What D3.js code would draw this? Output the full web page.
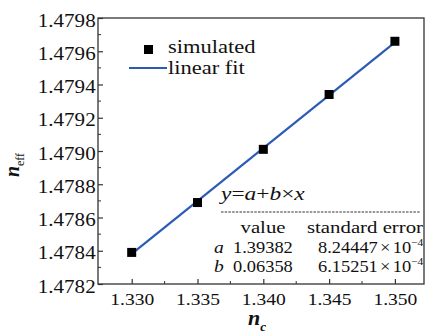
<!DOCTYPE html>
<html>
<head>
<meta charset="utf-8">
<script src="https://cdn.jsdelivr.net/npm/d3@7"></script>
<style>
  html, body { margin: 0; padding: 0; background: #fff; }
  svg { display: block; }
  text { font-family: serif; fill: #111; }
</style>
</head>
<body>
<svg id="chart" width="426" height="333"></svg>
<script>
// ---- data ----
const nc = [1.330, 1.335, 1.340, 1.345, 1.350];
const neff = [1.47839, 1.47869, 1.47901, 1.47934, 1.47966];
const fitA = 1.39382;
const fitB = 0.06358;
const xTicks = [1.330, 1.335, 1.340, 1.345, 1.350];
const xTickLabels = ["1.330", "1.335", "1.340", "1.345", "1.350"];
const xMinor = [1.3325, 1.3375, 1.3425, 1.3475];
const yTicks = [1.4782, 1.4784, 1.4786, 1.4788, 1.4790, 1.4792, 1.4794, 1.4796, 1.4798];
const yTickLabels = ["1.4782", "1.4784", "1.4786", "1.4788", "1.4790", "1.4792", "1.4794", "1.4796", "1.4798"];
const yMinor = [1.4783, 1.4785, 1.4787, 1.4789, 1.4791, 1.4793, 1.4795, 1.4797];
const legendLabels = ["simulated", "linear fit"];
const tableHeader = ["value", "standard error"];
const tableRows = [
  { name: "a", value: "1.39382", mant: "8.24447", exp: "−4" },
  { name: "b", value: "0.06358", mant: "6.15251", exp: "−4" }
];

// ---- layout ----
const L = 98, R = 424, T = 18, B = 284;
const svg = d3.select("#chart");
const x = d3.scaleLinear().domain([1.32744, 1.35221]).range([L, R]);
const y = d3.scaleLinear().domain([1.4782, 1.4798]).range([B, T]);
const frameColor = "#333";
const blue = "#2b5cb5";
const FONT = "serif";

// text helper with horizontal widening (reference font is a wide Century-style serif)
function wtext(px, py, size, sx, anchor) {
  return svg.append("text")
    .attr("transform", `translate(${px},${py}) scale(${sx},1)`)
    .attr("text-anchor", anchor || "start")
    .style("font-family", FONT)
    .style("font-size", size + "px");
}

// frame
svg.append("rect").attr("x", L).attr("y", T).attr("width", R - L).attr("height", B - T)
  .attr("fill", "none").attr("stroke", frameColor).attr("stroke-width", 1.3);

// y axis (ticks inward)
const yAxis = d3.axisLeft(y).tickValues(yTicks).tickSize(-5).tickFormat((d, i) => yTickLabels[i]);
const gy = svg.append("g").attr("transform", `translate(${L},0)`).call(yAxis);
gy.attr("font-family", FONT);
gy.select(".domain").remove();
gy.selectAll(".tick line").attr("stroke", frameColor).attr("stroke-width", 1.2);
gy.selectAll(".tick text").attr("x", -2).attr("dy", "0.45em")
  .attr("transform", "scale(1.17,1)")
  .style("font-family", FONT).style("font-size", "18px").attr("fill", "#111");
svg.append("g").selectAll("line").data(yMinor).join("line")
  .attr("x1", L).attr("x2", L + 3).attr("y1", d => y(d)).attr("y2", d => y(d))
  .attr("stroke", frameColor).attr("stroke-width", 1);

// x axis (ticks inward)
const xAxis = d3.axisBottom(x).tickValues(xTicks).tickSize(-5).tickFormat((d, i) => xTickLabels[i]);
const gx = svg.append("g").attr("transform", `translate(0,${B})`).call(xAxis);
gx.attr("font-family", FONT);
gx.select(".domain").remove();
gx.selectAll(".tick line").attr("stroke", frameColor).attr("stroke-width", 1.2);
gx.selectAll(".tick text").attr("y", 9).attr("dy", "0.71em")
  .attr("transform", "scale(1.15,1)")
  .style("font-family", FONT).style("font-size", "17px").attr("fill", "#111");
svg.append("g").selectAll("line").data(xMinor).join("line")
  .attr("x1", d => x(d)).attr("x2", d => x(d)).attr("y1", B).attr("y2", B - 3)
  .attr("stroke", frameColor).attr("stroke-width", 1);

// fit line
const xs = [nc[0], nc[nc.length - 1]];
svg.append("line")
  .attr("x1", x(xs[0])).attr("y1", y(fitA + fitB * xs[0]))
  .attr("x2", x(xs[1])).attr("y2", y(fitA + fitB * xs[1]))
  .attr("stroke", blue).attr("stroke-width", 2.2);

// points
const sz = 9;
svg.append("g").selectAll("rect").data(nc).join("rect")
  .attr("x", (d) => x(d) - sz / 2).attr("y", (d, i) => y(neff[i]) - sz / 2)
  .attr("width", sz).attr("height", sz).attr("fill", "#000");

// legend
svg.append("rect").attr("x", 144).attr("y", 45).attr("width", 9).attr("height", 9).attr("fill", "#000");
wtext(168, 53, 18, 1.25).text(legendLabels[0]);
svg.append("line").attr("x1", 129).attr("x2", 167).attr("y1", 68).attr("y2", 68)
  .attr("stroke", blue).attr("stroke-width", 2.2);
wtext(168, 74, 18, 1.25).text(legendLabels[1]);

// axis titles
const xt = wtext(248, 325, 20, 1.1).style("font-style", "italic").style("font-weight", "bold");
xt.append("tspan").text("n");
xt.append("tspan").attr("dy", 6).style("font-size", "12px").text("c");

const yt = svg.append("text").attr("transform", "translate(19,165) rotate(-90)")
  .attr("text-anchor", "middle").style("font-family", FONT).style("font-size", "20px")
  .style("font-style", "italic").style("font-weight", "bold");
yt.append("tspan").text("n");
yt.append("tspan").attr("dy", 5).style("font-size", "12px").style("font-style", "normal").style("font-weight", "normal").text("eff");

// annotation
const eq = wtext(221, 200, 18, 1.3);
eq.append("tspan").style("font-style", "italic").text("y");
eq.append("tspan").text("=");
eq.append("tspan").style("font-style", "italic").text("a");
eq.append("tspan").text("+");
eq.append("tspan").style("font-style", "italic").text("b");
eq.append("tspan").text("×");
eq.append("tspan").style("font-style", "italic").text("x");

svg.append("line").attr("x1", 221).attr("x2", 420).attr("y1", 212).attr("y2", 212)
  .attr("stroke", "#333").attr("stroke-width", 1).attr("stroke-dasharray", "2.5,1.2");

wtext(263, 233, 16, 1.3, "middle").text(tableHeader[0]);
wtext(307, 233, 16, 1.3).text(tableHeader[1]);

tableRows.forEach((r, i) => {
  const yy = 253 + i * 19;
  wtext(214, yy, 17, 1.15).style("font-style", "italic").text(r.name);
  wtext(233, yy, 16, 1.15).text(r.value);
  const t = wtext(318, yy, 16, 1.15);
  t.append("tspan").text(r.mant);
  t.append("tspan").attr("dx", 2).text("×");
  t.append("tspan").attr("dx", 2).text("10");
  t.append("tspan").attr("dy", -7).style("font-size", "10px").text(r.exp);
});
</script>
</body>
</html>
